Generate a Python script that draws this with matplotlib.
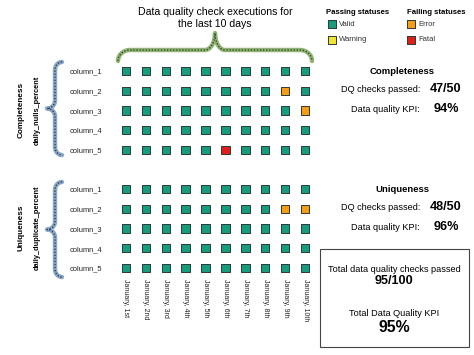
import numpy as np
import matplotlib
matplotlib.use("Agg")
import matplotlib.pyplot as plt

plt.rcParams['font.family'] = ['Liberation Sans', 'DejaVu Sans']

days = ['January, 1st', 'January, 2nd', 'January, 3rd', 'January, 4th', 'January, 5th',
        'January, 6th', 'January, 7th', 'January, 8th', 'January, 9th', 'January, 10th']
columns = ['column_1', 'column_2', 'column_3', 'column_4', 'column_5']

# status per column (rows) per day (cols)
completeness_status = [
    ['Valid'] * 10,
    ['Valid'] * 8 + ['Error', 'Valid'],
    ['Valid'] * 9 + ['Error'],
    ['Valid'] * 10,
    ['Valid'] * 5 + ['Fatal'] + ['Valid'] * 4,
]
uniqueness_status = [
    ['Valid'] * 10,
    ['Valid'] * 8 + ['Error', 'Error'],
    ['Valid'] * 10,
    ['Valid'] * 10,
    ['Valid'] * 10,
]

colors = {'Valid': '#179c7d', 'Warning': '#f2e52e', 'Error': '#f59d14', 'Fatal': '#e01e1a'}
passing = ['Valid', 'Warning']
failing = ['Error', 'Fatal']


def passed(status):
    return sum(s in passing for row in status for s in row)


fig = plt.figure(figsize=(4.74, 3.55), dpi=100)

# overlay in pixel coords for decorations/text
ov = fig.add_axes([0, 0, 1, 1])
ov.set_xlim(0, 474)
ov.set_ylim(355, 0)
ov.axis('off')

# grid axes
ax = fig.add_axes([116 / 474, 1 - 277.85 / 355, 199 / 474, 216.7 / 355])
ax.set_facecolor('none')
ax.set_xlim(-0.5, 9.5)
ax.set_ylim(10.5, -0.5)
for spine in ax.spines.values():
    spine.set_visible(False)

for offset, status in [(0, completeness_status), (6, uniqueness_status)]:
    for r, row in enumerate(status):
        xs = np.arange(len(row))
        ys = np.full(len(row), r + offset)
        ax.scatter(xs, ys, s=36, marker='s', c=[colors[s] for s in row],
                   edgecolors='#2b3a35', linewidths=0.7, zorder=3)

ax.set_yticks(list(range(5)) + list(range(6, 11)))
ax.set_yticklabels(columns + columns, fontsize=5.4, color='#222222')
ax.set_xticks(range(len(days)))
ax.set_xticklabels(days, rotation=270, fontsize=5.0, color='#222222', va='top', ha='center')
ax.tick_params(length=0, pad=1)
ax.tick_params(axis='y', pad=10)


def brace_pts(a0, a1, base, flat, tip, r, rt):
    # brace along axis a from a0 to a1: ends at base, flat level, tip in the middle
    am = (a0 + a1) / 2
    t = np.linspace(0, np.pi / 2, 15)
    c1a = a0 + r - r * np.cos(t)
    c1b = base + (flat - base) * np.sin(t)
    c2a = am - rt + rt * np.sin(t)
    c2b = flat + (tip - flat) * (1 - np.cos(t))
    a = np.concatenate([c1a, c2a])
    b = np.concatenate([c1b, c2b])
    return np.concatenate([a, (2 * am - a)[::-1]]), np.concatenate([b, b[::-1]])


def draw_brace(a, b, light, dark, vertical=False):
    x, y = (b, a) if vertical else (a, b)
    ov.plot(x, y, color=light, lw=3.2, solid_capstyle='round', alpha=0.9)
    ov.plot(x, y, color=dark, lw=1.0, ls=(0, (1, 1.2)))


a, b = brace_pts(118, 312, 61, 50, 33, 12, 10)
draw_brace(a, b, '#86ab67', '#2e4a22')
a, b = brace_pts(62, 155, 62, 55, 47, 8, 8)
draw_brace(a, b, '#7f9fc4', '#2c3e55', vertical=True)
a, b = brace_pts(182, 277, 62, 55, 47, 8, 8)
draw_brace(a, b, '#7f9fc4', '#2c3e55', vertical=True)

ov.text(215, 18, 'Data quality check executions for\nthe last 10 days', ha='center', va='center',
        fontsize=7.6, linespacing=1.2)

# left labels
ov.text(21, 110, 'Completeness', rotation=90, ha='center', va='center', fontsize=5.9, fontweight='bold')
ov.text(37, 110, 'daily_nulls_percent', rotation=90, ha='center', va='center', fontsize=5.3, fontweight='bold')
ov.text(21, 228, 'Uniqueness', rotation=90, ha='center', va='center', fontsize=5.9, fontweight='bold')
ov.text(37, 228, 'daily_duplicate_percent', rotation=90, ha='center', va='center', fontsize=5.3, fontweight='bold')

# legend
ov.text(326, 12, 'Passing statuses', ha='left', va='center', fontsize=5.6, fontweight='bold')
ov.text(407, 12, 'Failing statuses', ha='left', va='center', fontsize=5.6, fontweight='bold')
for i, s in enumerate(passing):
    ov.scatter([332], [24 + 15.5 * i], s=36, marker='s', color=colors[s], edgecolors='#2b3a35', linewidths=0.7)
    ov.text(339, 24 + 15.5 * i, s, ha='left', va='center', fontsize=5.5, color='#333333')
for i, s in enumerate(failing):
    ov.scatter([411], [24 + 15.5 * i], s=36, marker='s', color=colors[s], edgecolors='#2b3a35', linewidths=0.7)
    ov.text(418, 24 + 15.5 * i, s, ha='left', va='center', fontsize=5.5, color='#333333')

# dimension panels
total_pass = 0
total_n = 0
for y0, name, status in [(71, 'Completeness', completeness_status), (189, 'Uniqueness', uniqueness_status)]:
    p = passed(status)
    n = sum(len(r) for r in status)
    total_pass += p
    total_n += n
    ov.text(402, y0, name, ha='center', va='center', fontsize=6.8, fontweight='bold')
    ov.text(420, y0 + 19, 'DQ checks passed:', ha='right', va='center', fontsize=6.6)
    ov.text(446, y0 + 18.5, f'{p}/{n}', ha='center', va='center', fontsize=9.1, fontweight='bold')
    ov.text(420, y0 + 38, 'Data quality KPI:', ha='right', va='center', fontsize=6.6)
    ov.text(446, y0 + 37.5, f'{round(100 * p / n)}%', ha='center', va='center', fontsize=9.1, fontweight='bold')

box = plt.Rectangle((320, 249), 149, 98, fill=False, edgecolor='#444444', lw=0.8)
ov.add_patch(box)
ov.text(394, 269, 'Total data quality checks passed', ha='center', va='center', fontsize=6.6)
ov.text(394, 281, f'{total_pass}/{total_n}', ha='center', va='center', fontsize=9.1, fontweight='bold')
ov.text(394, 313, 'Total Data Quality KPI', ha='center', va='center', fontsize=6.6)
ov.text(394, 328, f'{round(100 * total_pass / total_n)}%', ha='center', va='center', fontsize=11.4, fontweight='bold')

fig.savefig('out.png', dpi=100)
